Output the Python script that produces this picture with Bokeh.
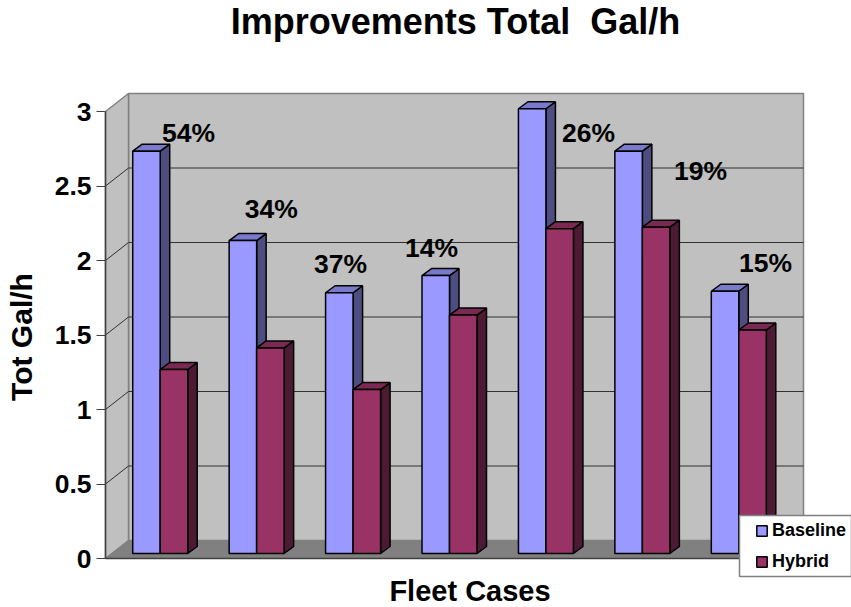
from bokeh.plotting import figure
from bokeh.models import ColumnDataSource, FixedTicker, Legend, LegendItem
from bokeh.core.properties import value
from bokeh.embed import file_html
from bokeh.resources import INLINE

# ---- data ----
baseline = [2.70, 2.10, 1.75, 1.865, 2.985, 2.70, 1.76]
hybrid = [1.235, 1.38, 1.10, 1.60, 2.18, 2.19, 1.50]
pct_labels = ["54%", "34%", "37%", "14%", "26%", "19%", "15%"]
pct_x = [0.86, 1.72, 2.437, 3.38, 5.009, 6.17, 6.844]
pct_y = [2.856, 2.346, 1.977, 2.084, 2.856, 2.601, 1.984]
y_ticks = [0, 0.5, 1, 1.5, 2, 2.5, 3]
y_tick_labels = ["0", "0.5", "1", "1.5", "2", "2.5", "3"]
title_text = "Improvements Total \u00a0Gal/h"
x_title = "Fleet Cases"
y_title = "Tot Gal/h"
series_names = ["Baseline", "Hybrid"]

# ---- scale helpers (pixels per data unit in the fixed layout) ----
N = len(baseline)
PX_PER_X = 96.43
PX_PER_Y = 149.0
FONT = "Liberation Sans"


def dx(px):
    return px / PX_PER_X


def dy(px):
    return px / PX_PER_Y


WALL_DX, WALL_DY = dx(23), dy(18)
BAR_W = dx(27.5)
BAR_OFF_X, BAR_OFF_Y = dx(6.5), dy(5)
BAR_DX, BAR_DY = dx(9.5), dy(7)
TOP = y_ticks[-1]

# the plotting frame fills the canvas: axes and texts are clipped to it
p = figure(width=851, height=607, output_backend="svg", toolbar_location=None,
           x_range=(dx(-105), dx(746)), y_range=(dy(-49), dy(558)),
           min_border_left=0, min_border_right=0, min_border_top=0, min_border_bottom=0,
           outline_line_color=None, background_fill_color="white", border_fill_color="white")
p.grid.visible = False

# ---- walls and floor ----
WALL_GREY = "#C0C0C0"
EDGE = "#808080"
p.patch([WALL_DX, N + WALL_DX, N + WALL_DX, WALL_DX],
        [WALL_DY, WALL_DY, TOP + WALL_DY, TOP + WALL_DY],
        fill_color=WALL_GREY, line_color=EDGE, line_width=1.5)
p.patch([0, WALL_DX, WALL_DX, 0], [0, WALL_DY, TOP + WALL_DY, TOP],
        fill_color=WALL_GREY, line_color=EDGE, line_width=1.5)
p.patch([0, N, N + WALL_DX, WALL_DX], [0, 0, WALL_DY, WALL_DY],
        fill_color=EDGE, line_color=EDGE, line_width=1)
for v in y_ticks[1:-1]:
    p.line([0, WALL_DX, N + WALL_DX], [v, v + WALL_DY, v + WALL_DY],
           line_color="#303030", line_width=1)


# ---- bars ----
def draw_series(vals, shift, front, side, top):
    xl = [i + 0.5 - BAR_W + shift + BAR_OFF_X for i in range(N)]
    xr = [x + BAR_W for x in xl]
    b = BAR_OFF_Y
    side_x = [[r, r + BAR_DX, r + BAR_DX, r] for r in xr]
    side_y = [[b, b + BAR_DY, b + v + BAR_DY, b + v] for v in vals]
    top_x = [[l, l + BAR_DX, r + BAR_DX, r] for l, r in zip(xl, xr)]
    top_y = [[b + v, b + v + BAR_DY, b + v + BAR_DY, b + v] for v in vals]
    p.patches(side_x, side_y, fill_color=side, line_color="black", line_width=1.5)
    p.patches(top_x, top_y, fill_color=top, line_color="black", line_width=1.5)
    src = ColumnDataSource(dict(x=[l + BAR_W / 2 for l in xl],
                                top=[b + v for v in vals]))
    return p.vbar(x="x", top="top", bottom=b, width=BAR_W, source=src,
                  fill_color=front, line_color="black", line_width=1.5)


r_base = draw_series(baseline, 0, "#9999FF", "#4D4D80", "#7A7ACC")
r_hyb = draw_series(hybrid, BAR_W, "#993366", "#4D1A33", "#7A2952")

# ---- percentage labels ----
p.text(x=pct_x, y=pct_y, text=pct_labels, text_align="center", text_baseline="middle",
       text_font=value(FONT), text_font_style="bold", text_font_size="26.5px", text_color="black")

# ---- axes ----
yax = p.yaxis[0]
yax.fixed_location = 0
yax.ticker = FixedTicker(ticks=y_ticks)
yax.major_label_overrides = dict(zip(y_ticks, y_tick_labels))
yax.bounds = (0, TOP)
yax.major_label_text_font = FONT
yax.major_label_text_font_style = "bold"
yax.major_label_text_font_size = "26.5px"
yax.major_label_text_color = "black"
yax.major_label_standoff = 5
yax.major_tick_in = 0
yax.major_tick_out = 9
yax.minor_tick_line_color = None
yax.axis_line_color = "#404040"
yax.major_tick_line_color = "#404040"
yax.axis_line_width = 1.5

xax = p.xaxis[0]
xax.fixed_location = 0
xax.ticker = FixedTicker(ticks=[])
xax.bounds = (0, N)
xax.axis_line_color = "#404040"
xax.axis_line_width = 1.5
xax.major_tick_line_color = None
xax.minor_tick_line_color = None
xax.major_label_text_font_size = "0px"

# ---- titles, placed relative to the plot origin ----
TITLE_STYLE = dict(text_align="center", text_baseline="middle", text_font=value(FONT),
                   text_font_style="bold", text_color="black")
p.text(x=[dx(350)], y=[dy(537)], text=[title_text], text_font_size="36px", **TITLE_STYLE)
p.text(x=[dx(364.5)], y=[dy(-32)], text=[x_title], text_font_size="29px", **TITLE_STYLE)
p.text(x=[dx(-84)], y=[dy(221.5)], text=[y_title], text_font_size="30px",
       angle=90, angle_units="deg", **TITLE_STYLE)

# ---- legend ----
p.quad(left=dx(634), right=dx(746), bottom=dy(-18), top=dy(43), level="annotation",
       fill_color="white", line_color=EDGE, line_width=1.5)
legend = Legend(items=[LegendItem(label=series_names[0], renderers=[r_base]),
                       LegendItem(label=series_names[1], renderers=[r_hyb])],
                location=(755, 35), orientation="vertical",
                background_fill_alpha=0, border_line_color=None,
                label_text_font=FONT, label_text_font_style="bold", label_text_font_size="18px",
                label_text_color="black", glyph_width=13, glyph_height=13, label_standoff=4,
                padding=5, margin=0, spacing=10)
p.add_layout(legend, "center")

open("out.html", "w").write(file_html(p, INLINE))
